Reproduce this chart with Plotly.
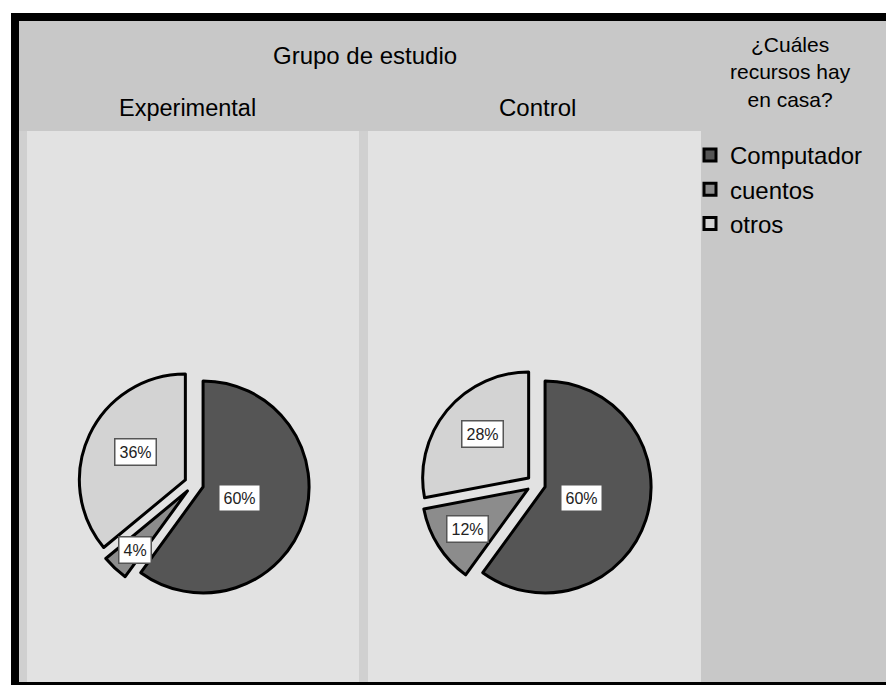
import math
import plotly.graph_objects as go

# ---- data ----
categories = ["Computador", "cuentos", "otros"]
groups = ["Experimental", "Control"]
experimental_pct = [60, 4, 36]
control_pct = [60, 12, 28]
slice_colors = ["#555555", "#8c8c8c", "#d3d3d3"]

W, H = 886, 685
FONT = "Liberation Sans, Arial, sans-serif"
PULL = 0.09
R = 106.0            # pie radius in px
HALF = R * (1 + PULL)
CY = 484
CENTERS = [194, 536]


def px(x):
    return x / W


def py(y):
    return 1 - y / H


fig = go.Figure()

for gi, (name, vals) in enumerate(zip(groups, [experimental_pct, control_pct])):
    cx = CENTERS[gi]
    fig.add_trace(go.Pie(
        labels=categories, values=vals, sort=False, direction="clockwise",
        rotation=0, pull=[PULL] * len(vals), textinfo="none", hoverinfo="label+percent",
        marker=dict(colors=slice_colors, line=dict(color="black", width=3)),
        domain=dict(x=[px(cx - HALF), px(cx + HALF)], y=[py(CY + HALF), py(CY - HALF)]),
        name=name, showlegend=(gi == 0),
    ))
    # percentage labels in boxes, positioned from the slice angles
    total = sum(vals)
    start = 0.0
    for v in vals:
        frac = v / total
        mid = (start + frac / 2) * 2 * math.pi
        f = 0.75 - 0.65 * frac
        d = PULL * R + f * R
        lx = cx + d * math.sin(mid)
        ly = CY - 2 - d * math.cos(mid) * 1.08
        fig.add_annotation(
            x=px(lx), y=py(ly), xref="paper", yref="paper", showarrow=False,
            xanchor="center", yanchor="middle",
            text=f"{round(frac * 100)}%", font=dict(family=FONT, size=16, color="#222"),
            bgcolor="white", bordercolor="#555555", borderwidth=1.5, borderpad=4,
        )
        start += frac

# ---- background frame ----
shapes = [
    dict(x0=11, x1=886, y0=13, y1=685, fill="black"),
    dict(x0=19, x1=886, y0=21, y1=682, fill="#c8c8c8"),
    dict(x0=19, x1=701, y0=131, y1=682, fill="#d0d0d0"),
    dict(x0=27, x1=359, y0=131, y1=682, fill="#e2e2e2"),
    dict(x0=368, x1=701, y0=131, y1=682, fill="#e2e2e2"),
]
for s in shapes:
    fig.add_shape(type="rect", xref="paper", yref="paper",
                  x0=px(s["x0"]), x1=px(s["x1"]), y0=py(s["y1"]), y1=py(s["y0"]),
                  fillcolor=s["fill"], line=dict(width=0), layer="below")

# ---- header texts ----
headers = [
    ("Grupo de estudio", 365, 55, 24),
    ("Experimental", 187, 108, 23.5),
    ("Control", 537, 108, 24),
    ("¿Cuáles<br>recursos hay<br>en casa?", 790, 72, 21),
]
for txt, x, y, sz in headers:
    fig.add_annotation(x=px(x), y=py(y), xref="paper", yref="paper", showarrow=False,
                       xanchor="center", yanchor="middle", align="center",
                       text=txt, font=dict(family=FONT, size=sz, color="black"))

fig.update_layout(
    width=W, height=H, margin=dict(l=0, r=0, t=0, b=0),
    paper_bgcolor="white", plot_bgcolor="white",
    legend=dict(x=px(690), xanchor="left", y=py(133), yanchor="top",
                font=dict(family=FONT, size=24, color="black"),
                bgcolor="rgba(0,0,0,0)", traceorder="normal"),
)

fig.write_html(
    "out.html",
    config={"displayModeBar": False},
    post_script="document.body.style.margin='0';document.body.style.overflow='hidden';",
)
